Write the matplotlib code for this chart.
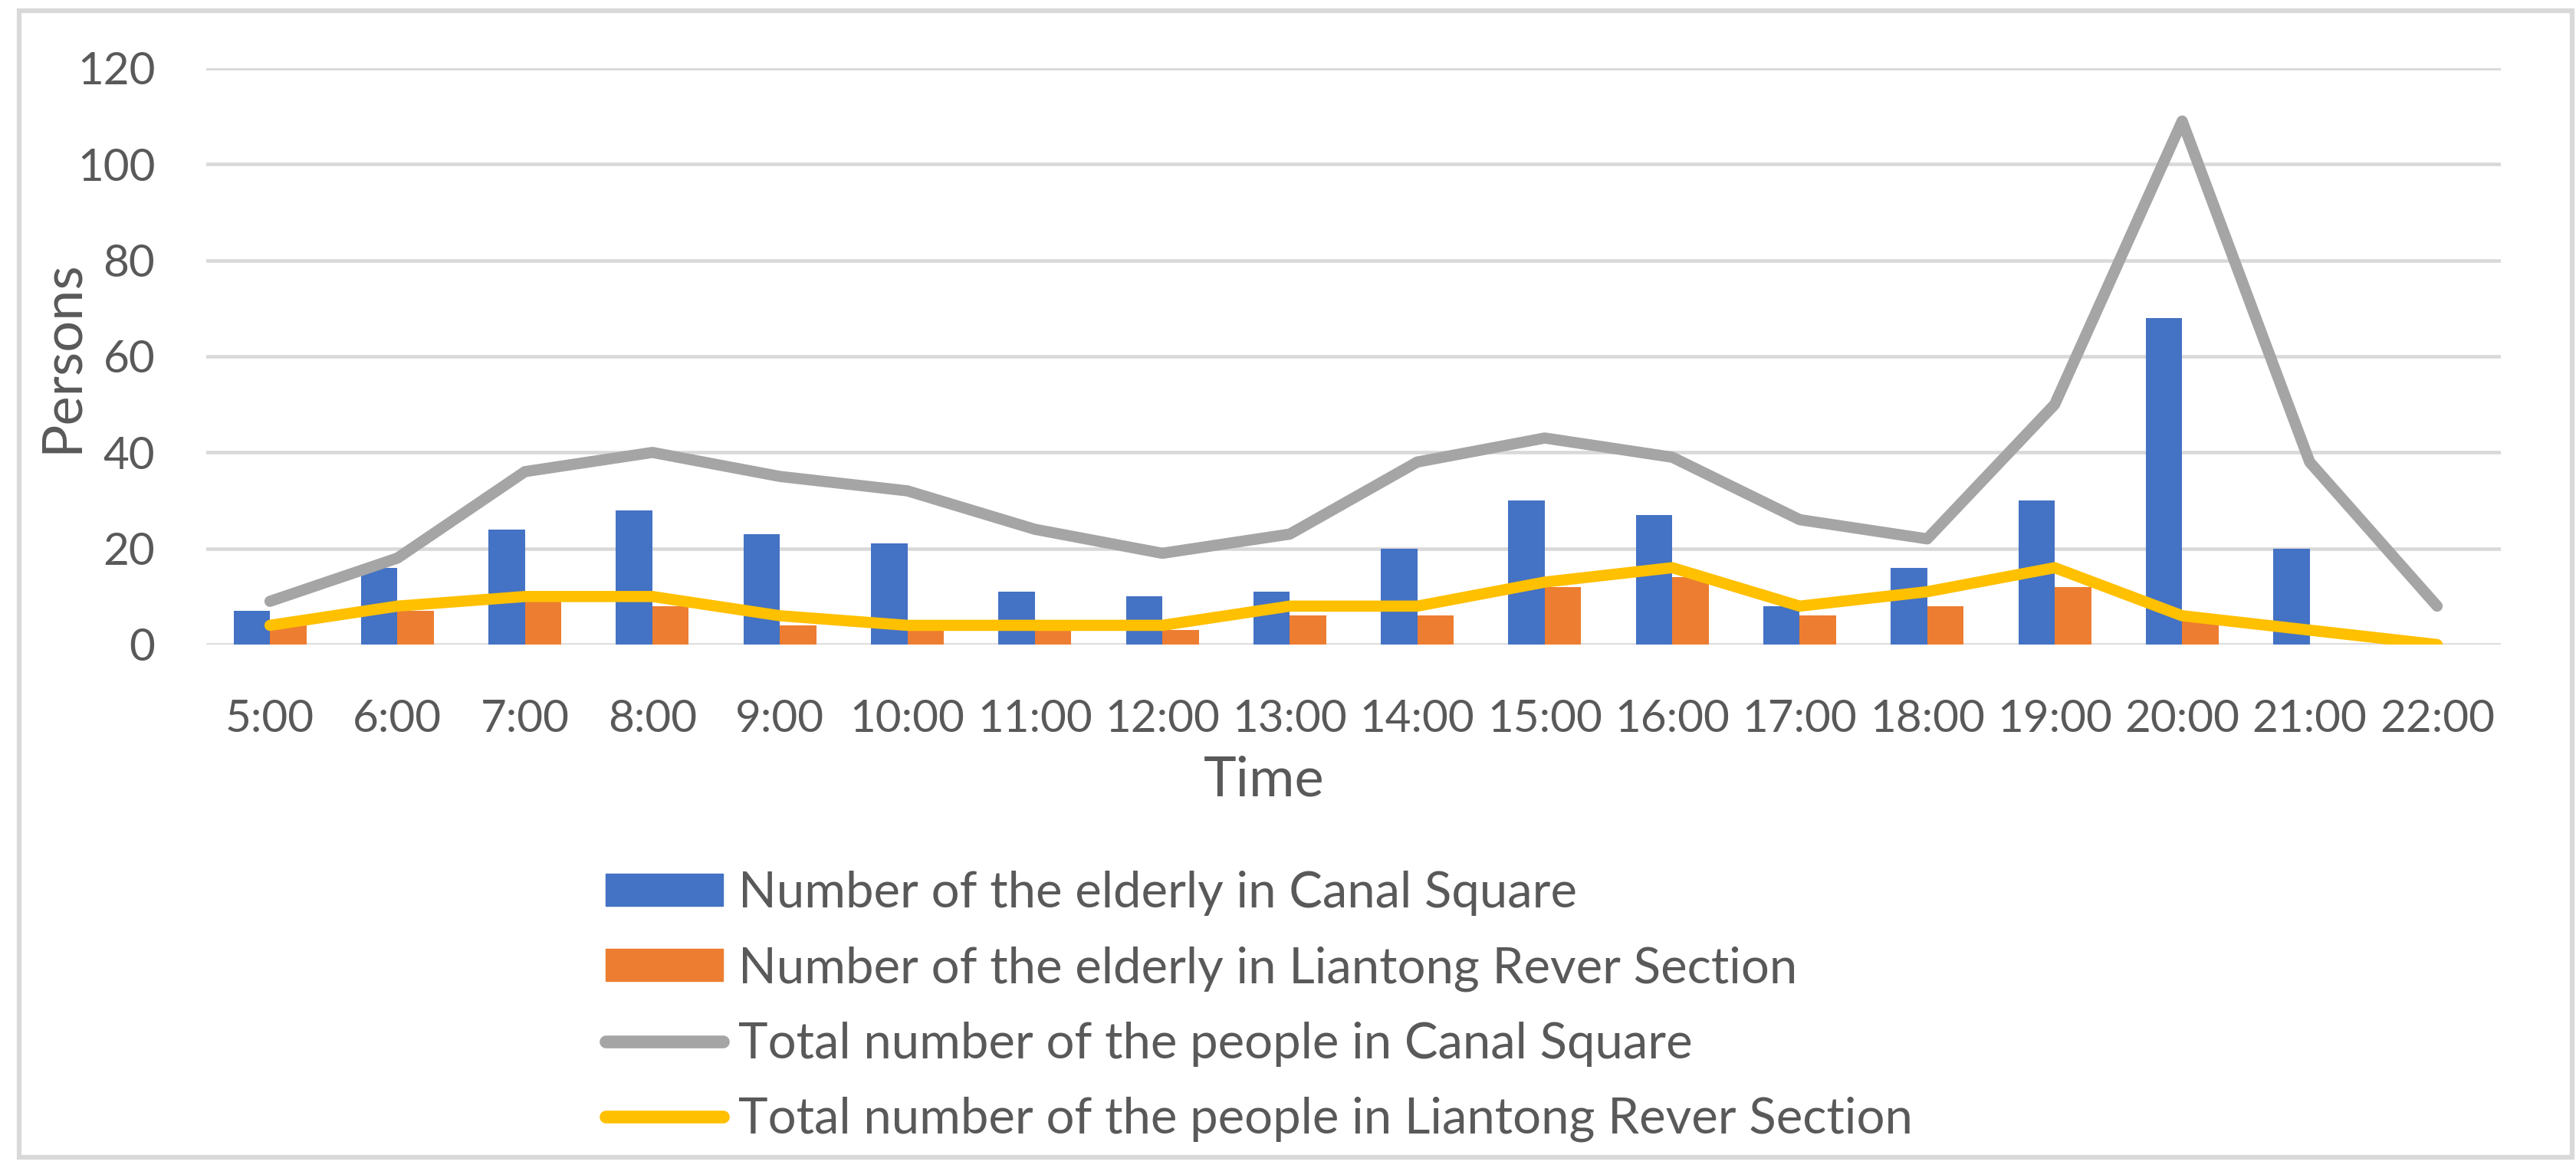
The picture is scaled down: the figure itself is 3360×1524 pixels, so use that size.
import numpy as np
import matplotlib
matplotlib.use("Agg")
import matplotlib.pyplot as plt
from matplotlib.patches import Patch, Rectangle
from matplotlib.lines import Line2D

# datos
horas = ["5:00", "6:00", "7:00", "8:00", "9:00", "10:00", "11:00", "12:00", "13:00",
         "14:00", "15:00", "16:00", "17:00", "18:00", "19:00", "20:00", "21:00", "22:00"]
mayores_canal = [7, 16, 24, 28, 23, 21, 11, 10, 11, 20, 30, 27, 8, 16, 30, 68, 20, 0]
mayores_liantong = [4, 7, 9, 8, 4, 3, 3, 3, 6, 6, 12, 14, 6, 8, 12, 5, 0, 0]
total_canal = [9, 18, 36, 40, 35, 32, 24, 19, 23, 38, 43, 39, 26, 22, 50, 109, 38, 8]
total_liantong = [4, 8, 10, 10, 6, 4, 4, 4, 8, 8, 13, 16, 8, 11, 16, 6, 3, 0]

etiquetas = ["Number of the elderly in Canal Square",
             "Number of the elderly in Liantong Rever Section",
             "Total number of the people in Canal Square",
             "Total number of the people in Liantong Rever Section"]

azul = "#4472C4"
naranja = "#ED7D31"
gris = "#A5A5A5"
amarillo = "#FFC000"
texto = "#595959"

plt.rcParams["font.family"] = ["Lato", "DejaVu Sans"]

W, H = 3360, 1524
fig = plt.figure(figsize=(W / 100, H / 100), dpi=100)

# marco exterior gris
fig.patches.append(Rectangle((25 / W, 14 / H), (3355 - 25) / W, (1510 - 14) / H,
                             transform=fig.transFigure, fill=False,
                             edgecolor="#D9D9D9", linewidth=4.5))

izq, der, abajo, arriba = 269, 3262, 841, 89
ax = fig.add_axes([izq / W, 1 - abajo / H, (der - izq) / W, (abajo - arriba) / H])

x = np.arange(len(horas))
ancho = 0.2857
ax.bar(x - ancho / 2, mayores_canal, width=ancho, color=azul, zorder=2)
ax.bar(x + ancho / 2, mayores_liantong, width=ancho, color=naranja, zorder=2)
ax.plot(x, total_canal, color=gris, linewidth=10.5, solid_capstyle="round",
        solid_joinstyle="round", zorder=3)
ax.plot(x, total_liantong, color=amarillo, linewidth=10.5, solid_capstyle="round",
        solid_joinstyle="round", zorder=4)

ax.set_xlim(-0.5, len(horas) - 0.5)
ax.set_ylim(0, 120)
ax.set_yticks(np.arange(0, 121, 20))
ax.set_xticks(x)
ax.set_xticklabels(horas)
ax.yaxis.grid(True, color="#D9D9D9", linewidth=3.3, zorder=0)
ax.set_axisbelow(True)
for s in ax.spines.values():
    s.set_visible(False)
ax.tick_params(axis="both", length=0, colors=texto, labelsize=42)
ax.tick_params(axis="y", pad=48)
ax.tick_params(axis="x", pad=51)

ax.set_ylabel("Persons", fontsize=52, color=texto, labelpad=-9)
fig.text(1649 / W, 1 - 1018 / H, "Time", fontsize=52, color=texto,
         ha="center", va="center")

# leyenda
manijas = [Patch(color=azul), Patch(color=naranja),
           Line2D([], [], color=gris, linewidth=12, solid_capstyle="round"),
           Line2D([], [], color=amarillo, linewidth=12, solid_capstyle="round")]
fig.legend(manijas, etiquetas, loc="upper left", bbox_to_anchor=(790 / W, 1 - 1136 / H),
           frameon=False, fontsize=47, labelcolor=texto, handlelength=2.35,
           handleheight=0.6, handletextpad=0.3, labelspacing=0.6, borderpad=0,
           borderaxespad=0)

fig.savefig("out.png", dpi=100, facecolor="white")
